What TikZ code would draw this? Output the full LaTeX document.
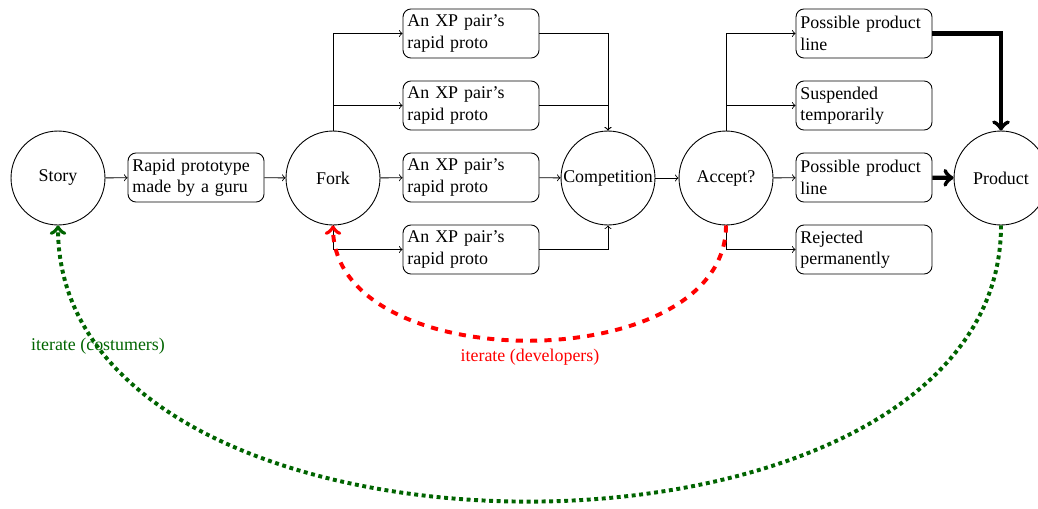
\documentclass[tikz,border=0pt]{standalone}
\usepackage{fontspec}
\setmainfont{Liberation Serif}
\definecolor{dgreen}{RGB}{0,100,0}
\hyphenpenalty=10000
\exhyphenpenalty=10000
\newcommand\myNoHyph{\hyphenpenalty=10000\relax}
\begin{document}
\begin{tikzpicture}[x=0.5587pt,y=-0.5587pt,line width=0.5pt,
  circ/.style={circle,draw,minimum size=52.5pt,inner sep=0pt},
  box/.style={draw,rounded corners=4.5pt,text width=71pt,inner xsep=2.5pt,inner ysep=1.5pt,minimum height=27.4pt,align=left,font=\myNoHyph},
  arr/.style={->},
  thickarr/.style={->,line width=2.4pt},
  loopred/.style={->,red,line width=2.2pt,dash pattern=on 4pt off 4pt},
  loopgreen/.style={->,dgreen,line width=2.2pt,dash pattern=on 2.2pt off 2pt}]
\useasboundingbox (0,0) rectangle (1038,508);
\node[circ] (story) at (58,178) {Story};
\node[box] (rapid) at (196,177.5) {Rapid prototype made by a guru};
\node[circ] (fork) at (333,178) {Fork};
\node[box] (xp1) at (471,33.5) {An XP pair’s rapid proto};
\node[box] (xp2) at (471,105.5) {An XP pair’s rapid proto};
\node[box] (xp3) at (471,177.5) {An XP pair’s rapid proto};
\node[box] (xp4) at (471,249.5) {An XP pair’s rapid proto};
\node[circ] (comp) at (608,178) {Competition};
\node[circ] (accept) at (726,178) {Accept?};
\node[box] (ppl1) at (864,33.5) {Possible product line};
\node[box] (susp) at (864,105.5) {Suspended temporarily};
\node[box] (ppl2) at (864,177.5) {Possible product line};
\node[box] (rej) at (864,249.5) {Rejected permanently};
\node[circ] (product) at (1001,178) {Product};

\draw[arr] (story) -- (rapid);
\draw[arr] (rapid) -- (fork);
\draw[arr] (fork.north) |- (xp1.west);
\draw[arr] (fork.north) |- (xp2.west);
\draw[arr] (fork) -- (xp3);
\draw[arr] (fork.south) |- (xp4.west);
\draw[arr] (xp1.east) -| (comp.north);
\draw[arr] (xp2.east) -| (comp.north);
\draw[arr] (xp3) -- (comp);
\draw[arr] (xp4.east) -| (comp.south);
\draw[arr] (comp) -- (accept);
\draw[arr] (accept.north) |- (ppl1.west);
\draw[arr] (accept.north) |- (susp.west);
\draw[arr] (accept) -- (ppl2);
\draw[arr] (accept.south) |- (rej.west);
\draw[thickarr] (ppl1.east) -| (product.north);
\draw[thickarr] (ppl2) -- (product);

\draw[loopred] (accept.south) to[out=-90,in=-90] (fork.south);
\draw[loopgreen] (product.south) to[out=-90,in=-90] (story.south);
\node[red] (devl) at (530,357) {iterate (developers)};
\node[dgreen] (cusl) at (98,346) {iterate (costumers)};
\end{tikzpicture}
\end{document}
